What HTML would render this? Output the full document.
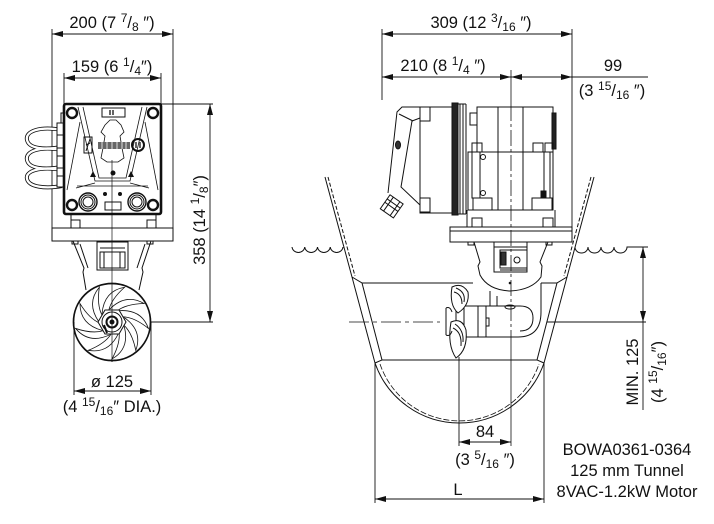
<!DOCTYPE html>
<html><head><meta charset="utf-8">
<style>
html,body{margin:0;padding:0;background:#fff;}
svg{display:block;}
text{font-family:"Liberation Sans","DejaVu Sans",sans-serif;fill:#111;font-size:16.5px;}
</style></head><body>
<svg width="714" height="524" viewBox="0 0 714 524" xmlns="http://www.w3.org/2000/svg">
<defs>
<path id="blade" d="M109.7,309.2 Q126,293 144,303.5 Q126,304 117,311"/>
</defs>
<g fill="none" stroke="#111" stroke-width="1">

<!-- ================= LEFT VIEW ================= -->
<path d="M52,34 H173 M52,29 V228 M173,29 V228" stroke-width="0.9"/>
<path d="M64,78 H161 M64,73 V104 M161,73 V104" stroke-width="0.9"/>
<path d="M161,104 H213 M151,322 H213 M210,104 V322" stroke-width="0.9"/>

<!-- cables -->
<g stroke="#111" stroke-width="4">
<path d="M62,130 C40,126 25,131 27,140 C29,149 45,150 62,147"/>
<path d="M62,150 C40,146 25,151 27,160 C29,169 45,170 62,167"/>
<path d="M62,170 C40,166 25,171 27,179 C29,187 45,189 62,186"/>
</g>
<g stroke="#fff" stroke-width="2.3">
<path d="M62,130 C40,126 25,131 27,140 C29,149 45,150 62,147"/>
<path d="M62,150 C40,146 25,151 27,160 C29,169 45,170 62,167"/>
<path d="M62,170 C40,166 25,171 27,179 C29,187 45,189 62,186"/>
</g>
<rect x="57" y="123" width="7" height="64" fill="#fff"/>
<path d="M57,135 H64 M57,148 H64 M57,156 H64 M57,168 H64 M57,176 H64"/>
<rect x="61" y="113" width="3" height="10"/>

<!-- box -->
<rect x="64" y="104" width="97" height="110" rx="2" stroke-width="2.6"/>
<g stroke-width="2.4">
<circle cx="72" cy="113" r="5"/><circle cx="153" cy="113" r="5"/>
<circle cx="72" cy="205" r="5"/><circle cx="153" cy="205" r="5"/>
</g>
<path d="M78,107 L95,181 H130 L147,107 M83,107 L99,178 H126 L142,107" stroke-width="0.8"/>
<path d="M76,188 L95,183 M149,188 L130,183 M77,186 H148" stroke-width="0.8"/>
<path d="M80,122 L67,190 M145,122 L158,190" stroke-width="0.8"/>
<rect x="102" y="108" width="23" height="9"/>
<path d="M110,110 V115 M113,110 V115" stroke-width="1.3"/>
<path d="M105,125 L110,120 L116,120 L121,125 L124,132 L120,136 L122,148 L124,158 L118,162 L107,162 L101,158 L103,148 L105,136 L101,132 Z" stroke-width="0.8"/>
<rect x="98" y="142" width="32" height="7" fill="#666" stroke="none"/>
<path d="M102,142 V149 M107,142 V149 M112,142 V149 M117,142 V149 M122,142 V149 M126,142 V149" stroke="#ddd" stroke-width="1"/>
<rect x="84" y="137" width="8" height="16"/>
<path d="M86,151 L90,139 M86,145 L90,143"/>
<circle cx="138" cy="145" r="6" stroke-width="2"/>
<path d="M136,142 V148 M140,142 V148" stroke-width="1.3"/>
<polygon points="93,171 90,177 96,177" fill="#111" stroke="none"/>
<polygon points="131,171 128,177 134,177" fill="#111" stroke="none"/>
<circle cx="113" cy="173" r="2.5" fill="#111" stroke="none"/>
<circle cx="88" cy="202" r="9" stroke-width="1.4"/><circle cx="88" cy="202" r="5"/><circle cx="88" cy="202" r="7"/>
<circle cx="137" cy="202" r="9" stroke-width="1.4"/><circle cx="137" cy="202" r="5"/><circle cx="137" cy="202" r="7"/>
<circle cx="105" cy="194" r="2" fill="#111" stroke="none"/><circle cx="120" cy="194" r="2" fill="#111" stroke="none"/>
<rect x="105" y="202" width="16" height="8"/>
<path d="M112,160 V362" stroke-width="0.7"/>

<!-- under box -->
<path d="M71,214 V228 M156,214 V228"/>
<rect x="71" y="220" width="9" height="8"/><rect x="147" y="220" width="9" height="8"/>
<rect x="52" y="228" width="121" height="13"/>

<!-- gearleg left -->
<path d="M73,241 L84,268 L83,272 L86,290 M80,244 L88,268 M151,241 L142,268 L143,272 L139,290 M145,244 L137,268"/>
<rect x="72" y="241" width="6" height="3"/><rect x="147" y="241" width="6" height="3"/>
<rect x="97" y="242" width="31" height="28"/>
<rect x="100" y="252" width="25" height="16"/>
<path d="M100,248 H125 M104,252 V268 M120,252 V268"/>

<!-- propeller front -->
<circle cx="112" cy="322" r="38.5" stroke-width="1.7" fill="#fff"/>
<g stroke-width="0.8">
<use href="#blade"/>
<use href="#blade" transform="rotate(40 112 322)"/>
<use href="#blade" transform="rotate(80 112 322)"/>
<use href="#blade" transform="rotate(120 112 322)"/>
<use href="#blade" transform="rotate(160 112 322)"/>
<use href="#blade" transform="rotate(200 112 322)"/>
<use href="#blade" transform="rotate(240 112 322)"/>
<use href="#blade" transform="rotate(280 112 322)"/>
<use href="#blade" transform="rotate(320 112 322)"/>
</g>
<polygon points="126,322 119,334 105,334 98,322 105,310 119,310" fill="#fff"/>
<circle cx="112" cy="322" r="10"/>
<circle cx="112" cy="322" r="5.5" stroke-width="2"/>
<circle cx="112" cy="322" r="2.5" fill="#111" stroke="none"/>
<path d="M104,325 L107,333" stroke-width="2"/>
<path d="M112,283 V362" stroke-width="0.7"/>
<path d="M74,322 V395 M151,322 V395 M74,391 H151" stroke-width="0.9"/>

<!-- ================= RIGHT VIEW ================= -->
<path d="M382,34 H572 M382,29 V100 M572,29 V228" stroke-width="0.9"/>
<path d="M382,77 H648" stroke-width="0.9"/>
<path d="M511,70 V105 M511,335 V446" stroke-width="0.8"/>
<path d="M511,105 V335" stroke-width="0.8" stroke-dasharray="16 3 3 3"/>

<!-- junction lid -->
<path d="M420,107 L402,107 L397,112 L388,193 M420,118 L412,121 L401,187 L420,205"/>
<path d="M399,114 L413,121"/>
<ellipse cx="398" cy="145" rx="2.5" ry="4" fill="#333"/>
<g transform="rotate(35 392 206)">
<rect x="384" y="198" width="16" height="17" fill="#fff"/>
<path d="M384,203 H400 M384,207 H400 M388,198 V215 M396,198 V215"/>
</g>
<rect x="420" y="107" width="32" height="106"/>
<rect x="420" y="107" width="10" height="14"/>
<rect x="420" y="198" width="10" height="14"/>
<rect x="452" y="103" width="6" height="112" fill="#222"/>
<path d="M460,104 V214 M463,104 V214 M466,104 V214"/>
<path d="M458,104 H466 M458,214 H466"/>
<rect x="477" y="107" width="76" height="45"/>
<rect x="470" y="113" width="7" height="12"/>
<rect x="552" y="113" width="4" height="36" fill="#222"/>
<rect x="468" y="152" width="85" height="58"/>
<path d="M498,107 V210 M523,107 V210"/>
<rect x="472" y="143" width="10" height="9"/>
<rect x="472" y="152" width="8" height="46"/>
<circle cx="483" cy="157" r="2.5"/><circle cx="483" cy="193" r="2.5"/>
<rect x="533" y="143" width="10" height="9"/><rect x="545" y="143" width="8" height="9"/>
<rect x="544" y="152" width="6" height="46"/>
<rect x="541" y="191" width="5" height="6" fill="#111"/>
<rect x="473" y="198" width="19" height="12"/>
<rect x="532" y="198" width="20" height="12"/>
<path d="M467,210 V227 M555,210 V227"/>
<rect x="472" y="218" width="10" height="9"/><rect x="543" y="218" width="10" height="9"/>
<rect x="450" y="227" width="122" height="15"/>
<path d="M450,231 H572"/>

<!-- gearleg right -->
<rect x="468" y="242" width="6" height="3"/><rect x="546" y="242" width="6" height="3"/>
<path d="M474,242 L480,262 L478,266 L480,275 Q488,290 510,291 Q532,290 541,277 L542,266 L540,262 L548,242"/>
<rect x="494" y="242" width="33" height="30"/>
<rect x="500" y="250" width="27" height="18"/>
<rect x="501" y="252" width="5" height="13" fill="#333"/>
<circle cx="517" cy="260" r="3"/>
<path d="M494,247 H527 M500,270 H527"/>
<circle cx="510" cy="283" r="1.3" fill="#111" stroke="none"/>
<path d="M490,291 V306 M497,296 V306 M541,283 V312 Q541,337 518,337 H463 M463,306 H520 Q533,306 533,318 Q533,331 520,331"/>
<path d="M463,306 V337 M478,306 V337 M486,306 V337 M486,318 H489 V326 H486"/>
<ellipse cx="510" cy="307" rx="5" ry="2"/>
<rect x="456" y="302" width="8" height="38" fill="#fff"/>
<path d="M452,287 Q462,282 468,292 Q470,305 458,313 Q449,305 452,287 Z" fill="#fff"/>
<path d="M454,292 Q462,294 462,304 M456,288 Q466,292 464,302"/>
<path d="M451,322 Q462,317 466,330 Q468,350 456,358 Q447,345 451,322 Z" fill="#fff"/>
<path d="M453,328 Q462,332 461,346 M455,324 Q464,330 463,342"/>
<path d="M446,308 V335 M446,308 Q450,306 452,312 M446,335 Q450,337 452,331"/>

<!-- hull -->
<path d="M325,177 L352,277 L375,363 M352,277 L362,283 L382,360 L375,363"/>
<path d="M328,177 L355,276" stroke-dasharray="4 2"/>
<path d="M594,177 L567,277 L544,363 M567,277 L557,283 L537,360 L544,363"/>
<path d="M591,177 L564,276" stroke-dasharray="4 2"/>
<path d="M362,283 H473 M541,283 H557 M382,360 H537"/>
<path d="M375,363 A89.5,89.5 0 0 0 544,363"/>
<path d="M380,364 A84,84 0 0 0 539,364" stroke-dasharray="6 2" stroke-width="0.8"/>
<path d="M292,247 a6.4,6 0 0 0 12.75,0 a6.4,6 0 0 0 12.75,0 a6.4,6 0 0 0 12.75,0 a6.4,6 0 0 0 12.75,0"/>
<path d="M575,247 a6.5,6 0 0 0 13,0 a6.5,6 0 0 0 13,0 a6.5,6 0 0 0 13,0 a6.5,6 0 0 0 13,0 H648"/>
<path d="M349,322 H440" stroke-dasharray="20 4 4 4" stroke-width="0.8"/>
<path d="M547,322 H646" stroke-width="0.9"/>
<path d="M643,247 V410" stroke-width="0.9"/>
<path d="M459,357 V446 M459,442 H511" stroke-width="0.9"/>
<path d="M375,363 V503 M544,363 V503 M375,499 H544" stroke-width="0.9"/>
</g>

<!-- arrowheads -->
<g fill="#111">
<polygon points="52,34 63,31 63,37"/><polygon points="173,34 162,31 162,37"/>
<polygon points="64,78 75,75 75,81"/><polygon points="161,78 150,75 150,81"/>
<polygon points="210,104 207,115 213,115"/><polygon points="210,322 207,311 213,311"/>
<polygon points="74,391 85,388 85,394"/><polygon points="151,391 140,388 140,394"/>
<polygon points="382,34 393,31 393,37"/><polygon points="572,34 561,31 561,37"/>
<polygon points="382,77 393,74 393,80"/><polygon points="511,77 500,74 500,80"/>
<polygon points="511,77 522,74 522,80"/><polygon points="572,77 561,74 561,80"/>
<polygon points="643,247 640,258 646,258"/><polygon points="643,322 640,311 646,311"/>
<polygon points="459,442 470,439 470,445"/><polygon points="511,442 500,439 500,445"/>
<polygon points="375,499 386,496 386,502"/><polygon points="544,499 533,496 533,502"/>
</g>

<!-- texts -->
<text x="112" y="28" text-anchor="middle">200 (7 <tspan font-size="12" dy="-6">7</tspan><tspan dy="6">/</tspan><tspan font-size="12" dy="3">8</tspan><tspan dy="-3"> ″)</tspan></text>
<text x="112" y="72" text-anchor="middle">159 (6 <tspan font-size="12" dy="-6">1</tspan><tspan dy="6">/</tspan><tspan font-size="12" dy="3">4</tspan><tspan dy="-3">″)</tspan></text>
<text transform="translate(205,220) rotate(-90)" text-anchor="middle">358 (14 <tspan font-size="12" dy="-6">1</tspan><tspan dy="6">/</tspan><tspan font-size="12" dy="3">8</tspan><tspan dy="-3">″)</tspan></text>
<text x="112" y="387" text-anchor="middle">ø 125</text>
<text x="112" y="412" text-anchor="middle">(4 <tspan font-size="12" dy="-6">15</tspan><tspan dy="6">/</tspan><tspan font-size="12" dy="3">16</tspan><tspan dy="-3">″ DIA.)</tspan></text>

<text x="481" y="28" text-anchor="middle">309 (12 <tspan font-size="12" dy="-6">3</tspan><tspan dy="6">/</tspan><tspan font-size="12" dy="3">16</tspan><tspan dy="-3"> ″)</tspan></text>
<text x="443" y="71" text-anchor="middle">210 (8 <tspan font-size="12" dy="-6">1</tspan><tspan dy="6">/</tspan><tspan font-size="12" dy="3">4</tspan><tspan dy="-3"> ″)</tspan></text>
<text x="613" y="71" text-anchor="middle">99</text>
<text x="612" y="96" text-anchor="middle">(3 <tspan font-size="12" dy="-6">15</tspan><tspan dy="6">/</tspan><tspan font-size="12" dy="3">16</tspan><tspan dy="-3"> ″)</tspan></text>
<text transform="translate(638,372) rotate(-90)" text-anchor="middle">MIN. 125</text>
<text transform="translate(663,372) rotate(-90)" text-anchor="middle">(4 <tspan font-size="12" dy="-6">15</tspan><tspan dy="6">/</tspan><tspan font-size="12" dy="3">16</tspan><tspan dy="-3">″)</tspan></text>
<text x="485" y="437" text-anchor="middle">84</text>
<text x="485" y="465" text-anchor="middle">(3 <tspan font-size="12" dy="-6">5</tspan><tspan dy="6">/</tspan><tspan font-size="12" dy="3">16</tspan><tspan dy="-3"> ″)</tspan></text>
<text x="458" y="495" text-anchor="middle">L</text>
<text x="627" y="455" text-anchor="middle" font-size="15">BOWA0361-0364</text>
<text x="627" y="476" text-anchor="middle" font-size="15">125 mm Tunnel</text>
<text x="627" y="497" text-anchor="middle" font-size="15">8VAC-1.2kW Motor</text>
</svg>
</body></html>
